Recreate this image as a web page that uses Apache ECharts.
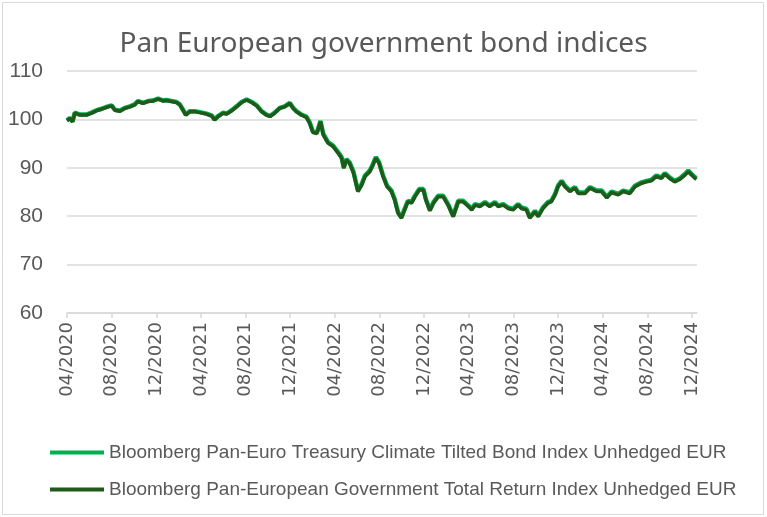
<!DOCTYPE html>
<html>
<head>
<meta charset="utf-8">
<script src="https://cdn.jsdelivr.net/npm/echarts@6/dist/echarts.min.js"></script>
<style>
  html, body { margin: 0; padding: 0; background: #ffffff; }
  #chart { width: 767px; height: 517px; }
</style>
</head>
<body>
<div id="chart"></div>
<script>
// Observation dates (roughly fortnightly sampling)
const dates = [
  '2020-04-01','2020-04-09','2020-04-16','2020-04-22','2020-05-06','2020-05-24','2020-06-07','2020-06-21','2020-07-04','2020-07-18','2020-08-01','2020-08-10','2020-08-24','2020-09-07','2020-09-20','2020-10-03','2020-10-12','2020-10-26','2020-11-09','2020-11-22','2020-12-06','2020-12-20','2020-12-29',
  '2021-01-12','2021-01-26','2021-02-04','2021-02-12','2021-02-19','2021-03-01','2021-03-15','2021-03-29','2021-04-16','2021-04-30','2021-05-08','2021-05-18','2021-06-01','2021-06-10','2021-06-24','2021-07-07','2021-07-21','2021-08-04','2021-08-18','2021-09-01','2021-09-14','2021-09-27','2021-10-07','2021-10-20','2021-11-03','2021-11-16','2021-11-30','2021-12-09','2021-12-18',
  '2022-01-01','2022-01-15','2022-01-24','2022-02-02','2022-02-12','2022-02-21','2022-02-28','2022-03-13','2022-03-27','2022-04-10','2022-04-19','2022-04-25','2022-05-02','2022-05-11','2022-05-22','2022-06-03','2022-06-13','2022-06-22','2022-07-05','2022-07-14','2022-07-22','2022-07-31','2022-08-11','2022-08-22','2022-09-03','2022-09-12','2022-09-21','2022-09-30','2022-10-09','2022-10-18','2022-10-28','2022-11-06','2022-11-18','2022-11-29','2022-12-06','2022-12-17','2022-12-27',
  '2023-01-09','2023-01-23','2023-02-05','2023-02-18','2023-03-03','2023-03-16','2023-03-31','2023-04-09','2023-04-18','2023-05-01','2023-05-15','2023-05-28','2023-06-11','2023-06-20','2023-07-04','2023-07-17','2023-07-31','2023-08-14','2023-08-23','2023-09-06','2023-09-15','2023-09-29','2023-10-08','2023-10-21','2023-11-04','2023-11-13','2023-11-23','2023-12-01','2023-12-11','2023-12-20',
  '2024-01-03','2024-01-17','2024-01-26','2024-02-13','2024-02-26','2024-03-15','2024-03-29','2024-04-12','2024-04-25','2024-05-13','2024-05-27','2024-06-14','2024-06-28','2024-07-16','2024-07-30','2024-08-12','2024-08-26','2024-09-09','2024-09-18','2024-10-01','2024-10-15','2024-10-29','2024-11-12','2024-11-21','2024-11-30','2024-12-13'
];

// Bloomberg Pan-Euro Treasury Climate Tilted Bond Index Unhedged EUR (rebased to 100)
const climateTilted = [
  99.8,100.3,99.6,101.4,101.0,101.0,101.4,101.9,102.2,102.6,102.9,102.0,101.8,102.4,102.7,103.1,103.8,103.4,103.8,103.9,104.3,103.9,104.0,
  103.8,103.6,103.1,102.0,101.0,101.7,101.7,101.5,101.2,100.8,100.0,100.7,101.4,101.2,101.9,102.7,103.6,104.1,103.6,102.9,101.7,101.0,100.7,101.4,102.4,102.7,103.4,102.4,101.7,
  101.0,100.6,99.4,97.5,97.3,99.7,97.0,95.3,94.6,93.2,92.2,90.1,91.8,91.1,89.1,85.3,86.6,88.4,89.4,90.8,92.2,91.1,88.4,86.3,85.3,83.5,80.8,79.8,81.5,83.2,82.9,84.2,85.6,85.6,83.5,81.3,82.9,
  84.2,84.2,82.5,80.1,83.2,83.2,82.2,81.5,82.5,82.2,82.9,82.2,82.9,82.2,82.5,81.8,81.5,82.5,81.8,81.5,79.8,81.1,80.1,81.8,82.9,83.2,84.6,86.3,87.3,86.3,
  85.3,86.0,84.9,84.9,86.0,85.3,85.3,84.0,85.1,84.6,85.3,84.9,86.3,87.0,87.3,87.5,88.4,88.0,88.9,88.0,87.3,87.8,88.7,89.4,88.7,87.8
];

// Bloomberg Pan-European Government Total Return Index Unhedged EUR (rebased to 100)
const panEuroGovt = [
  99.7,100.2,99.5,101.3,100.9,100.9,101.3,101.8,102.1,102.5,102.8,101.9,101.7,102.3,102.6,103.0,103.7,103.3,103.7,103.8,104.2,103.8,103.9,
  103.7,103.5,103.0,101.9,100.9,101.6,101.6,101.4,101.1,100.7,99.9,100.6,101.3,101.1,101.8,102.6,103.5,104.0,103.5,102.8,101.6,100.9,100.6,101.3,102.3,102.6,103.3,102.3,101.6,
  100.9,100.4,99.2,97.3,97.1,99.5,96.8,95.1,94.4,93.0,92.0,89.9,91.6,90.9,88.9,85.1,86.4,88.2,89.2,90.6,92.0,90.9,88.2,86.1,85.1,83.3,80.6,79.6,81.3,83.0,82.7,84.0,85.4,85.4,83.3,81.1,82.7,
  84.0,84.0,82.3,79.9,83.0,83.0,82.0,81.3,82.3,82.0,82.7,82.0,82.7,82.0,82.3,81.6,81.3,82.3,81.6,81.3,79.6,80.9,79.9,81.6,82.7,83.0,84.4,86.1,87.1,86.1,
  85.1,85.8,84.7,84.7,85.8,85.1,85.1,83.8,84.9,84.4,85.1,84.7,86.1,86.8,87.1,87.3,88.2,87.8,88.7,87.8,87.1,87.6,88.5,89.2,88.5,87.6
];

const seriesNames = [
  'Bloomberg Pan-Euro Treasury Climate Tilted Bond Index Unhedged EUR',
  'Bloomberg Pan-European Government Total Return Index Unhedged EUR'
];

const yTicks = { min: 60, max: 110, step: 10 };

// x positions are months elapsed since April 2020
const START_YEAR = 2020, START_MONTH = 4;
function monthOffset(iso) {
  const [y, m, d] = iso.split('-').map(Number);
  const dim = new Date(Date.UTC(y, m, 0)).getUTCDate();
  return (y - START_YEAR) * 12 + (m - START_MONTH) + (d - 1) / dim;
}
function monthLabel(v) {
  if (Math.abs(v - Math.round(v)) > 1e-6) return '';
  const total = START_MONTH - 1 + Math.round(v);
  const yr = START_YEAR + Math.floor(total / 12);
  const mm = (total % 12) + 1;
  return (mm < 10 ? '0' : '') + mm + '/' + yr;
}

const xs = dates.map(monthOffset);
const pairs = arr => arr.map((v, i) => [xs[i], v]);

const grey = '#595959';
const gridGrey = '#d9d9d9';

const chart = echarts.init(document.getElementById('chart'), null, { renderer: 'canvas' });
chart.setOption({
  animation: false,
  backgroundColor: '#ffffff',
  title: {
    text: 'Pan European government bond indices',
    left: 'center',
    top: 25,
    textStyle: { fontFamily: 'Noto Sans', fontWeight: 'normal', fontSize: 28, color: grey }
  },
  graphic: [{
    type: 'rect',
    shape: { x: 2.5, y: 2.5, width: 761, height: 512 },
    style: { fill: 'none', stroke: gridGrey, lineWidth: 1 },
    silent: true
  }],
  grid: { left: 67, right: 70, top: 71, bottom: 204 },
  xAxis: {
    type: 'value',
    min: 0,
    max: 56.45,
    interval: 4,
    splitLine: { show: false },
    axisLine: { show: true, lineStyle: { color: gridGrey, width: 1.5 } },
    axisTick: { show: true, length: 5, lineStyle: { color: gridGrey, width: 1.5 } },
    axisLabel: {
      rotate: 90,
      margin: 9,
      showMaxLabel: false,
      formatter: monthLabel,
      fontFamily: 'DejaVu Sans',
      fontSize: 18,
      color: grey
    }
  },
  yAxis: {
    type: 'value',
    min: yTicks.min,
    max: yTicks.max,
    interval: yTicks.step,
    axisLine: { show: false },
    axisTick: { show: false },
    splitLine: { lineStyle: { color: gridGrey, width: 1.5 } },
    axisLabel: { margin: 24, fontFamily: 'Liberation Sans', fontSize: 21, color: grey }
  },
  legend: {
    orient: 'vertical',
    left: 50,
    top: 442,
    padding: 0,
    itemWidth: 54,
    itemHeight: 4,
    itemGap: 16,
    icon: 'rect',
    textStyle: { fontFamily: 'Liberation Sans', fontSize: 19, color: grey, lineHeight: 21 },
    data: seriesNames
  },
  series: [
    {
      name: seriesNames[0],
      type: 'line',
      data: pairs(climateTilted),
      showSymbol: false,
      color: '#00b050',
      lineStyle: { width: 4.5, color: '#00b050' }
    },
    {
      name: seriesNames[1],
      type: 'line',
      data: pairs(panEuroGovt),
      showSymbol: false,
      color: '#1f5a1a',
      lineStyle: { width: 3.5, color: '#1f5a1a' }
    }
  ]
});
</script>
</body>
</html>
